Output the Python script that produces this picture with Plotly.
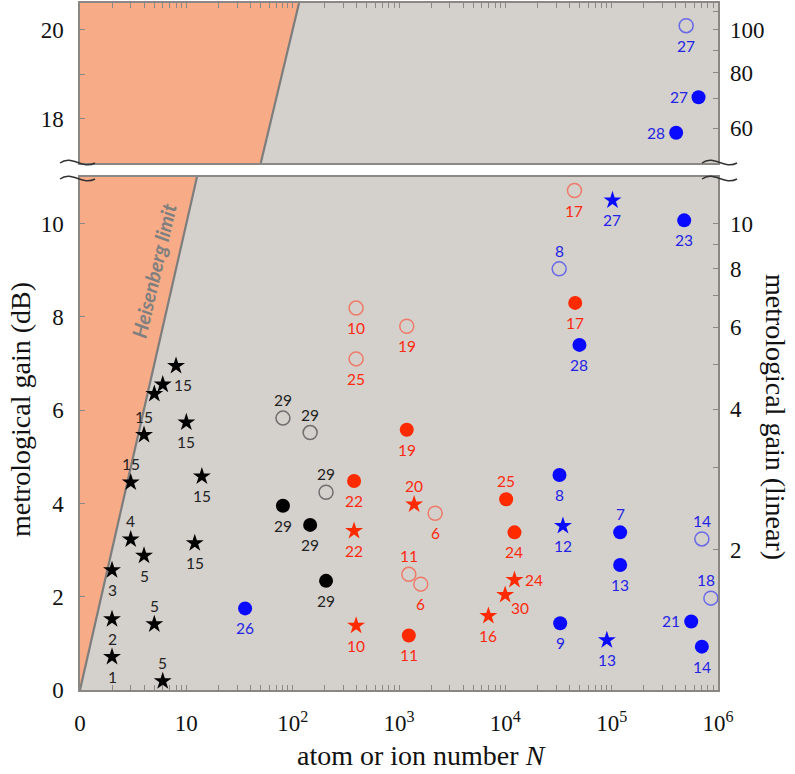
import numpy as np
import plotly.graph_objects as go

# ---------------- data (N, gain in dB, reference label, label position) ----------------
# black: ions (stars), black filled / grey open circles
bs_N   = [2, 2, 2, 3, 4, 5, 6, 3, 4, 10, 14, 12, 5, 6, 8]
bs_dB  = [0.71, 1.52, 2.57, 3.23, 2.88, 1.41, 0.19, 4.45, 5.47, 5.74, 4.58, 3.15, 6.35, 6.55, 6.95]
bs_lab = ['1', '2', '3', '4', '5', '5', '5', '15', '15', '15', '15', '15', '', '15', '']
bs_pos = ['b', 'b', 'b', 'a', 'b', 'a', 'a', 'a', 'a', 'b', 'b', 'b', 'b', 'r', 'b']

bc_N   = [81, 146, 206]
bc_dB  = [3.95, 3.54, 2.34]
bc_lab = ['29', '29', '29']
bc_pos = ['b', 'b', 'b']

go_N   = [81, 146, 206]
go_dB  = [5.83, 5.52, 4.24]
go_lab = ['29', '29', '29']
go_pos = ['a', 'a', 'a']

# red
rf_N   = [378, 1183, 1237, 10180, 12190, 45400]
rf_dB  = [4.48, 5.58, 1.17, 4.09, 3.38, 8.30]
rf_lab = ['22', '19', '11', '25', '24', '17']
rf_pos = ['b', 'b', 'b', 'a', 'b', 'b']

ro_N   = [395, 395, 1183, 1237, 1603, 2187, 44700]
ro_dB  = [8.19, 7.10, 7.80, 2.48, 2.27, 3.79, 10.71]
ro_lab = ['10', '25', '19', '11', '6', '6', '17']
ro_pos = ['b', 'b', 'b', 'a', 'b', 'b', 'b']

rs_N   = [378, 395, 1387, 6930, 9960, 12190]
rs_dB  = [3.41, 1.38, 3.98, 1.59, 2.04, 2.36]
rs_lab = ['22', '10', '20', '16', '30', '24']
rs_pos = ['b', 'b', 'a', 'b', 'br', 'r']

# blue (lower panel)
bf_N   = [35.7, 32300, 32800, 49800, 120200, 120200, 481000, 560000, 705000]
bf_dB  = [1.75, 4.61, 1.43, 7.40, 3.38, 2.68, 10.07, 1.47, 0.93]
bf_lab = ['26', '8', '9', '28', '7', '13', '23', '21', '14']
bf_pos = ['b', 'b', 'b', 'b', 'a', 'b', 'b', 'l', 'b']

bo_N   = [32100, 705000, 857000]
bo_dB  = [9.03, 3.24, 1.97]
bo_lab = ['8', '14', '18']
bo_pos = ['a', 'a', 'al']

bst_N   = [34800, 90100, 101800]
bst_dB  = [3.52, 1.07, 10.50]
bst_lab = ['12', '13', '27']
bst_pos = ['b', 'b', 'b']

# blue (upper panel)
tbf_N   = [404000, 656000]
tbf_dB  = [17.68, 18.48]
tbf_lab = ['28', '27']
tbf_pos = ['l', 'l']

tbo_N   = [502000]
tbo_dB  = [20.09]
tbo_lab = ['27']
tbo_pos = ['b']

# axes
x_decades = [1, 10, 1e2, 1e3, 1e4, 1e5, 1e6]
x_decade_text = ['0', '10', '10<sup>2</sup>', '10<sup>3</sup>', '10<sup>4</sup>',
                 '10<sup>5</sup>', '10<sup>6</sup>']
lin_low  = [2, 3, 4, 5, 6, 7, 8, 9, 10]
lin_low_text = ['2', '', '4', '', '6', '', '8', '', '10']
lin_high = [60, 70, 80, 90, 100, 110]
lin_high_text = ['60', '', '80', '', '100', '']

LOW_RANGE = [0, 11]
HIGH_RANGE = [17, 20.6]

# ---------------- styling ----------------
SALMON = '#f8ab87'
BG = '#d4d0cb'
FRAME = '#8a8784'
RED = '#ff2a00'
RED_OPEN = '#ee7a6a'
BLUE = '#0a0aff'
BLUE_OPEN = '#6a6ae8'
BLUE_TXT = '#2323e6'
RED_TXT = '#ff2a10'
SERIF = 'Liberation Serif'
SANS = 'Lato'

W, H = 795, 774
ML, MR, MT, MB = 80, 77, 3, 84
PW, PH = W - ML - MR, H - MT - MB
BOT_TOP_PX = 177
TOP_BOT_PX = 163


def py2paper(py):
    return (H - MB - py) / PH


def px2paper(px):
    return (px - ML) / PW


fig = go.Figure()


# Heisenberg region and line (G = 10 log10 N)
def heis(lo, hi, yref):
    xa = 'x' if yref == 'y' else 'x2'
    n_lo, n_hi = 10 ** (lo / 10), 10 ** (hi / 10)
    fig.add_trace(go.Scatter(x=[n_lo, n_hi, 1, 1], y=[lo, hi, hi, lo], fill='toself',
                             fillcolor=SALMON, line=dict(width=0), mode='lines',
                             xaxis=xa, yaxis=yref, showlegend=False, hoverinfo='skip'))
    fig.add_trace(go.Scatter(x=[n_lo, n_hi], y=[lo, hi], mode='lines',
                             line=dict(color='#7d7d7d', width=2.2),
                             xaxis=xa, yaxis=yref, showlegend=False, hoverinfo='skip'))


heis(0, LOW_RANGE[1], 'y')
heis(HIGH_RANGE[0], HIGH_RANGE[1], 'y2')

OFFS = {'b': (0, -20), 'a': (0, 18), 'l': (-20, 0), 'r': (20, 0),
        'br': (15, -13), 'al': (-5, 18)}


def series(N, dB, labs, pos, symbol, color, size, txtcolor, yref='y', lw=0):
    xa = 'x' if yref == 'y' else 'x2'
    if symbol.endswith('open'):
        marker = dict(symbol=symbol, size=size, color=color, line=dict(color=color, width=lw))
    else:
        marker = dict(symbol=symbol, size=size, color=color, line=dict(width=0))
    fig.add_trace(go.Scatter(x=N, y=dB, mode='markers', marker=marker,
                             xaxis=xa, yaxis=yref, showlegend=False))
    for n, d, t, p in zip(N, dB, labs, pos):
        if not t:
            continue
        dx, dy = OFFS[p]
        fig.add_annotation(x=np.log10(n), y=d, xref=xa, yref=yref, text=t,
                           showarrow=False, xshift=dx, yshift=dy,
                           xanchor='center', yanchor='middle',
                           font=dict(family=SANS, size=15.5, color=txtcolor))


series(go_N, go_dB, go_lab, go_pos, 'circle-open', '#6e6e6e', 14, '#222222', lw=1.5)
series(bc_N, bc_dB, bc_lab, bc_pos, 'circle', '#000000', 14, '#222222')
series(bs_N, bs_dB, bs_lab, bs_pos, 'star', '#000000', 13.5, '#222222')
series(ro_N, ro_dB, ro_lab, ro_pos, 'circle-open', RED_OPEN, 14, RED_TXT, lw=1.5)
series(rf_N, rf_dB, rf_lab, rf_pos, 'circle', RED, 14, RED_TXT)
series(rs_N, rs_dB, rs_lab, rs_pos, 'star', RED, 13.5, RED_TXT)
series(bo_N, bo_dB, bo_lab, bo_pos, 'circle-open', BLUE_OPEN, 14, BLUE_TXT, lw=1.5)
series(bf_N, bf_dB, bf_lab, bf_pos, 'circle', BLUE, 14, BLUE_TXT)
series(bst_N, bst_dB, bst_lab, bst_pos, 'star', BLUE, 13.5, BLUE_TXT)
series(tbo_N, tbo_dB, tbo_lab, tbo_pos, 'circle-open', BLUE_OPEN, 14, BLUE_TXT, yref='y2', lw=1.5)
series(tbf_N, tbf_dB, tbf_lab, tbf_pos, 'circle', BLUE, 14, BLUE_TXT, yref='y2')

# invisible traces so the right-hand axes get drawn
fig.add_trace(go.Scatter(x=[1], y=[None], xaxis='x', yaxis='y3', showlegend=False))
fig.add_trace(go.Scatter(x=[1], y=[None], xaxis='x2', yaxis='y4', showlegend=False))

# x ticks: every 1..9 x 10^d, labels only at decades
x_tickvals, x_ticktext = [], []
for d in range(0, 6):
    for k in range(1, 10):
        x_tickvals.append(k * 10 ** d)
        x_ticktext.append(x_decade_text[d] if k == 1 else '')
x_tickvals.append(x_decades[-1])
x_ticktext.append(x_decade_text[-1])

tickfont = dict(family=SERIF, size=23, color='#111111')

xcommon = dict(type='log', range=[0, 6], showgrid=False, zeroline=False,
               showline=True, linecolor=FRAME, linewidth=1.5, mirror=True,
               ticks='inside', ticklen=5, tickwidth=1.1, tickcolor=FRAME,
               tickmode='array', tickvals=x_tickvals)

bot_dom = [0, py2paper(BOT_TOP_PX)]
top_dom = [py2paper(TOP_BOT_PX), 1]

fig.update_layout(
    width=W, height=H, margin=dict(l=ML, r=MR, t=MT, b=MB),
    paper_bgcolor='white', plot_bgcolor=BG,
    xaxis=dict(**xcommon, anchor='y', ticktext=x_ticktext, tickfont=tickfont,
               ticklabelstandoff=12),
    xaxis2=dict(**xcommon, anchor='y2', matches='x', side='top', showticklabels=False),
    yaxis=dict(domain=bot_dom, range=LOW_RANGE, showgrid=False, zeroline=False,
               showline=True, linecolor=FRAME, linewidth=1.5, mirror=True,
               ticks='inside', ticklen=5, tickwidth=1.2, tickcolor=FRAME,
               tickmode='array', tickvals=[0, 2, 4, 6, 8, 10], tickfont=tickfont,
               ticklabelstandoff=10, anchor='x'),
    yaxis2=dict(domain=top_dom, range=HIGH_RANGE, showgrid=False, zeroline=False,
                showline=True, linecolor=FRAME, linewidth=1.5, mirror=True,
                ticks='inside', ticklen=5, tickwidth=1.2, tickcolor=FRAME,
                tickmode='array', tickvals=[18, 19, 20], ticktext=['18', '', '20'],
                tickfont=tickfont, ticklabelstandoff=10, anchor='x2'),
    yaxis3=dict(overlaying='y', side='right', anchor='x', range=LOW_RANGE,
                showgrid=False, zeroline=False, showline=False,
                ticks='inside', ticklen=5, tickwidth=1.2, tickcolor=FRAME,
                tickmode='array', tickvals=[10 * np.log10(v) for v in lin_low],
                ticktext=lin_low_text, tickfont=tickfont, ticklabelstandoff=11),
    yaxis4=dict(overlaying='y2', side='right', anchor='x2', range=HIGH_RANGE,
                showgrid=False, zeroline=False, showline=False,
                ticks='inside', ticklen=5, tickwidth=1.2, tickcolor=FRAME,
                tickmode='array', tickvals=[10 * np.log10(v) for v in lin_high],
                ticktext=lin_high_text, tickfont=tickfont, ticklabelstandoff=11),
)

# Heisenberg limit label
fig.add_annotation(x=np.log10(4.97), y=9.0, xref='x', yref='y', text='Heisenberg limit',
                   showarrow=False, textangle=-77, xanchor='center', yanchor='middle',
                   font=dict(family=SANS, size=20, color='#7f7f7f', weight='bold', style='italic'))

# axis titles
titlefont = dict(family=SERIF, size=28, color='#111111')
fig.add_annotation(xref='paper', yref='paper', x=px2paper(421), y=py2paper(755),
                   xanchor='center', yanchor='middle',
                   text='atom or ion number <i>N</i>', showarrow=False, font=titlefont)
fig.add_annotation(xref='paper', yref='paper', x=px2paper(20), y=py2paper(410),
                   xanchor='center', yanchor='middle',
                   text='metrological gain (dB)', showarrow=False, textangle=-90, font=titlefont)
fig.add_annotation(xref='paper', yref='paper', x=px2paper(776), y=py2paper(417),
                   xanchor='center', yanchor='middle',
                   text='metrological gain (linear)', showarrow=False, textangle=90, font=titlefont)


# axis-break marks
def tilde(x0, yc):
    pts = [(x0, yc + 1), (x0 + 12, yc - 8), (x0 + 22, yc + 8), (x0 + 35, yc + 1)]
    p = [(px2paper(a), py2paper(b)) for a, b in pts]
    return 'M {} {} C {} {}, {} {}, {} {}'.format(*[c for pt in p for c in pt])


for x0 in (60, 702):
    for yc in (TOP_BOT_PX - 1, BOT_TOP_PX + 1):
        fig.add_shape(type='path', xref='paper', yref='paper', path=tilde(x0, yc),
                      line=dict(color='#333333', width=1.5))

fig.write_html('out.html')
